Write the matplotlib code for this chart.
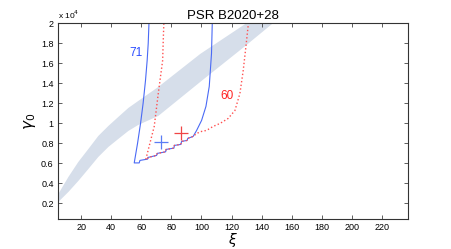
import matplotlib
matplotlib.use("Agg")
import matplotlib.pyplot as plt
from matplotlib.ticker import FuncFormatter

plt.rcParams["font.family"] = ["Liberation Sans", "DejaVu Sans"]
plt.rcParams["mathtext.fontset"] = "dejavusans"

# allowed band (gamma_0 vs xi)
band_xi = [4.5, 11.2, 17.8, 24.5, 31.1, 37.8, 44.4, 51.1, 57.7, 71.0, 98.9, 128.9, 146.7]
band_upper = [3000, 4700, 6200, 7500, 8800, 9800, 10700, 11600, 12300, 13700, 17000, 20000, 21800]
band_lower = [2200, 3200, 4300, 5500, 6700, 7700, 8500, 9300, 9900, 10800, 14200, 17800, 20000]

# contour for 71 (blue, solid)
c71_xi = [65.1, 64.6, 63.9, 62.8, 61.2, 59.5, 57.5, 55.3, 58.6, 59.1, 64.2, 64.5, 70.2, 70.6,
          76.2, 76.5, 81.7, 82.0, 86.3, 86.8, 90.5, 90.9, 94.5, 96.8, 100.1, 103.0, 105.2, 106.7, 107.2]
c71_gamma = [20000, 18000, 16300, 14300, 12000, 10000, 8000, 6050, 6050, 6300, 6430, 6600, 6800, 7000,
             7160, 7400, 7530, 7800, 7900, 8200, 8300, 8500, 8700, 9300, 10300, 11700, 13700, 17000, 20000]

# contour for 60 (red, dotted)
c60_xi = [75.0, 74.6, 74.2, 71.3, 68.6, 63.5, 63.0, 64.2, 64.5, 70.2, 70.6, 76.2, 76.5, 81.7, 82.0,
          86.3, 86.8, 90.5, 90.9, 94.5, 96.8, 100.1, 103.4, 107.8, 112.4, 117.8, 122.3, 125.6, 127.8,
          129.6, 131.1, 131.3]
c60_gamma = [20000, 18300, 16300, 13000, 9700, 6700, 6400, 6430, 6600, 6800, 7000, 7160, 7400, 7530, 7800,
             7900, 8200, 8300, 8500, 8700, 9000, 9200, 9300, 9700, 10000, 10500, 11300, 13000, 15300,
             17700, 19800, 20000]

# best-fit markers
best71 = (73.0, 8100)
best60 = (86.3, 9000)

fig = plt.figure(figsize=(4.52, 2.49), dpi=100)
ax = fig.add_axes([0.128, 0.12, 0.775, 0.786])

ax.fill_between(band_xi, band_lower, band_upper, color="#d6deea", linewidth=0)
ax.plot(c71_xi, c71_gamma, color="#4a6af5", linewidth=0.8)
ax.plot(c60_xi, c60_gamma, color="#ff5050", linewidth=1.0, linestyle=":")
ax.plot(*best71, marker="+", color="#5a7cf5", markersize=10, markeredgewidth=0.9)
ax.plot(*best60, marker="+", color="#f04545", markersize=10, markeredgewidth=0.9)

ax.text(56.4, 17000, "71", color="#2a4cff", fontsize=8.5, ha="center", va="center")
ax.text(117.1, 12700, "60", color="#ff2020", fontsize=8.5, ha="center", va="center")

ax.set_xlim(4.5, 237.5)
ax.set_ylim(430, 20000)
ax.set_xticks(range(20, 221, 20))
ax.set_yticks([i * 2000 for i in range(1, 11)])
ax.yaxis.set_major_formatter(FuncFormatter(lambda v, p: "%g" % round(v / 1e4, 1)))
ax.tick_params(direction="in", length=3, width=0.6, labelsize=6.5, top=True, right=True,
               color="#444444", pad=3)
for s in ax.spines.values():
    s.set_linewidth(0.8)
    s.set_color("#333333")

ax.text(0.0, 1.012, r"x 10$^4$", transform=ax.transAxes, fontsize=6, ha="left", va="bottom")
ax.set_title("PSR B2020+28", fontsize=9.5, pad=3)
ax.set_xlabel(r"$\xi$", fontsize=10, labelpad=-1)
ax.set_ylabel(r"$\gamma_0$", fontsize=11, labelpad=2)

fig.savefig("out.png", dpi=100)
